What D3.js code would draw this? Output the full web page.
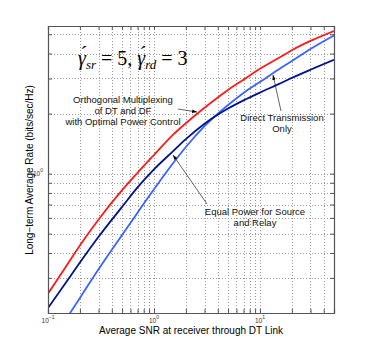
<!DOCTYPE html>
<html>
<head>
<meta charset="utf-8">
<script src="https://cdn.jsdelivr.net/npm/d3@7"></script>
<style>
  body { margin: 0; background: #fff; }
  text { font-family: "Liberation Sans", Arial, sans-serif; }
  text.math { font-family: "Liberation Serif", "DejaVu Serif", serif; }
</style>
</head>
<body>
<svg id="chart" width="368" height="352"></svg>
<script>
// data
const snr = [0.1, 0.15, 0.2, 0.3, 0.5, 0.7, 1, 1.5, 2, 3, 5, 7, 10, 15, 20, 30, 50];
const rateOptimal = [0.25, 0.346, 0.436, 0.589, 0.826, 1.01, 1.24, 1.56, 1.79, 2.14, 2.63, 2.96, 3.36, 3.80, 4.16, 4.63, 5.19];
const rateEqual = [0.212, 0.288, 0.358, 0.482, 0.681, 0.853, 1.05, 1.29, 1.49, 1.78, 2.12, 2.33, 2.55, 2.81, 3.02, 3.32, 3.72];
const rateDirect = [0.136, 0.188, 0.238, 0.331, 0.492, 0.637, 0.834, 1.12, 1.36, 1.73, 2.21, 2.54, 2.88, 3.33, 3.67, 4.22, 4.93];
const xMajor = [0.1, 1, 10];
const yMajor = [1];

const svg = d3.select("#chart");
const margin = { top: 26, right: 34, bottom: 39, left: 48 };
const width = 368 - margin.left - margin.right;
const height = 352 - margin.top - margin.bottom;

const x = d3.scaleLog().domain([0.1, 50]).range([0, width]);
const y = d3.scaleLog().domain([0.2, 5.5]).range([height, 0]);

const g = svg.append("g").attr("transform", `translate(${margin.left},${margin.top})`);

// grid, log minor ticks (dotted)
const xGrid = x.ticks().filter((d) => d > 0.1 && d < 50);
const yGrid = y.ticks().filter((d) => d > 0.2 && d < 5.5);
const snap = (v) => Math.round(v) + 0.5;

g.selectAll(".xgrid")
  .data(xGrid)
  .join("line")
  .attr("class", "xgrid")
  .attr("x1", (d) => snap(x(d))).attr("x2", (d) => snap(x(d)))
  .attr("y1", 0).attr("y2", height)
  .style("stroke", "#9a9a9a")
  .style("stroke-width", "1px")
  .style("stroke-dasharray", "1 2");

g.selectAll(".ygrid")
  .data(yGrid)
  .join("line")
  .attr("class", "ygrid")
  .attr("x1", 0).attr("x2", width)
  .attr("y1", (d) => snap(y(d))).attr("y2", (d) => snap(y(d)))
  .style("stroke", "#9a9a9a")
  .style("stroke-width", "1px")
  .style("stroke-dasharray", "1 2");

// curves
const line = d3.line()
  .x((d) => x(d[0]))
  .y((d) => y(d[1]))
  .curve(d3.curveMonotoneX);

g.append("clipPath").attr("id", "clip")
  .append("rect").attr("width", width).attr("height", height);

const series = [
  { vals: rateDirect, color: "#3a64ff" },
  { vals: rateEqual, color: "#00138c" },
  { vals: rateOptimal, color: "#ff1a1a" }
];
series.forEach((s) => {
  g.append("path")
    .datum(snr.map((d, i) => [d, s.vals[i]]))
    .attr("clip-path", "url(#clip)")
    .attr("fill", "none")
    .attr("stroke", s.color)
    .attr("stroke-width", 1.8)
    .attr("d", line);
});

// axes box with inward ticks
const tickLen = 4;
g.append("g").attr("transform", `translate(0,${height})`)
  .call(d3.axisBottom(x).tickValues(x.ticks()).tickSize(-tickLen).tickFormat(""));
g.append("g")
  .call(d3.axisTop(x).tickValues(x.ticks()).tickSize(-tickLen).tickFormat(""));
g.append("g")
  .call(d3.axisLeft(y).tickValues(y.ticks()).tickSize(-tickLen).tickFormat(""));
g.append("g").attr("transform", `translate(${width},0)`)
  .call(d3.axisRight(y).tickValues(y.ticks()).tickSize(-tickLen).tickFormat(""));
g.selectAll(".domain").attr("stroke", "#555").attr("stroke-width", 1.2);
g.selectAll(".tick line").attr("stroke", "#555");

// tick labels 10^n
function powLabel(sel, exp) {
  sel.append("tspan").text("10");
  sel.append("tspan").attr("dy", -4).attr("font-size", 5).text(exp);
}
xMajor.forEach((d) => {
  const e = Math.round(Math.log10(d));
  const t = g.append("text")
    .attr("x", x(d)).attr("y", height + 10)
    .attr("text-anchor", "middle")
    .attr("font-size", 6.5)
    .attr("fill", "#333");
  powLabel(t, e < 0 ? "−1" : String(e));
});
yMajor.forEach((d) => {
  const t = g.append("text")
    .attr("x", -5).attr("y", y(d) + 2)
    .attr("text-anchor", "end")
    .attr("font-size", 6.5)
    .attr("fill", "#333");
  powLabel(t, String(Math.round(Math.log10(d))));
});

// axis titles
svg.append("text")
  .attr("x", 191).attr("y", 334)
  .attr("text-anchor", "middle")
  .attr("font-size", 10)
  .text("Average SNR at receiver through DT Link");
svg.append("text")
  .attr("transform", "translate(33,170) rotate(-90)")
  .attr("text-anchor", "middle")
  .attr("font-size", 10)
  .text("Long−term Average Rate (bits/sec/Hz)");

// formula
const f = svg.append("text")
  .attr("class", "math")
  .attr("x", 78).attr("y", 65)
  .attr("font-size", 20);
f.append("tspan").attr("font-style", "italic").text("γ\u0301");
f.append("tspan").attr("font-style", "italic").attr("font-size", 13).attr("dy", 4).text("sr");
f.append("tspan").attr("dy", -4).text(" = 5, ");
f.append("tspan").attr("font-style", "italic").text("γ\u0301");
f.append("tspan").attr("font-style", "italic").attr("font-size", 13).attr("dy", 4).text("rd");
f.append("tspan").attr("dy", -4).text(" = 3");

// annotations
svg.append("defs").append("marker")
  .attr("id", "arr").attr("viewBox", "0 0 10 10")
  .attr("refX", 10).attr("refY", 5)
  .attr("markerWidth", 7).attr("markerHeight", 7)
  .attr("orient", "auto")
  .append("path").attr("d", "M0,1.5 L10,5 L0,8.5 Z").attr("fill", "#000");

function note(lines, cx, cy) {
  const t = svg.append("text")
    .attr("text-anchor", "middle")
    .attr("font-size", 9.5)
    .attr("fill", "#111");
  lines.forEach((s, i) => {
    t.append("tspan").attr("x", cx).attr("y", cy + i * 10.8).text(s);
  });
}
function arrow(x1, y1, x2, y2) {
  svg.append("line")
    .attr("x1", x1).attr("y1", y1).attr("x2", x2).attr("y2", y2)
    .attr("stroke", "#222").attr("stroke-width", 0.7)
    .attr("marker-end", "url(#arr)");
}

note(["Orthogonal Multiplexing", "of DT and DF", "with Optimal Power Control"], 123, 103);
arrow(178, 109, 197, 112);
note(["Direct Transmission", "Only"], 282, 121);
arrow(281, 111, 273, 75);
note(["Equal Power for Source", "and Relay"], 255, 215);
arrow(207, 204, 173, 155);
</script>
</body>
</html>
